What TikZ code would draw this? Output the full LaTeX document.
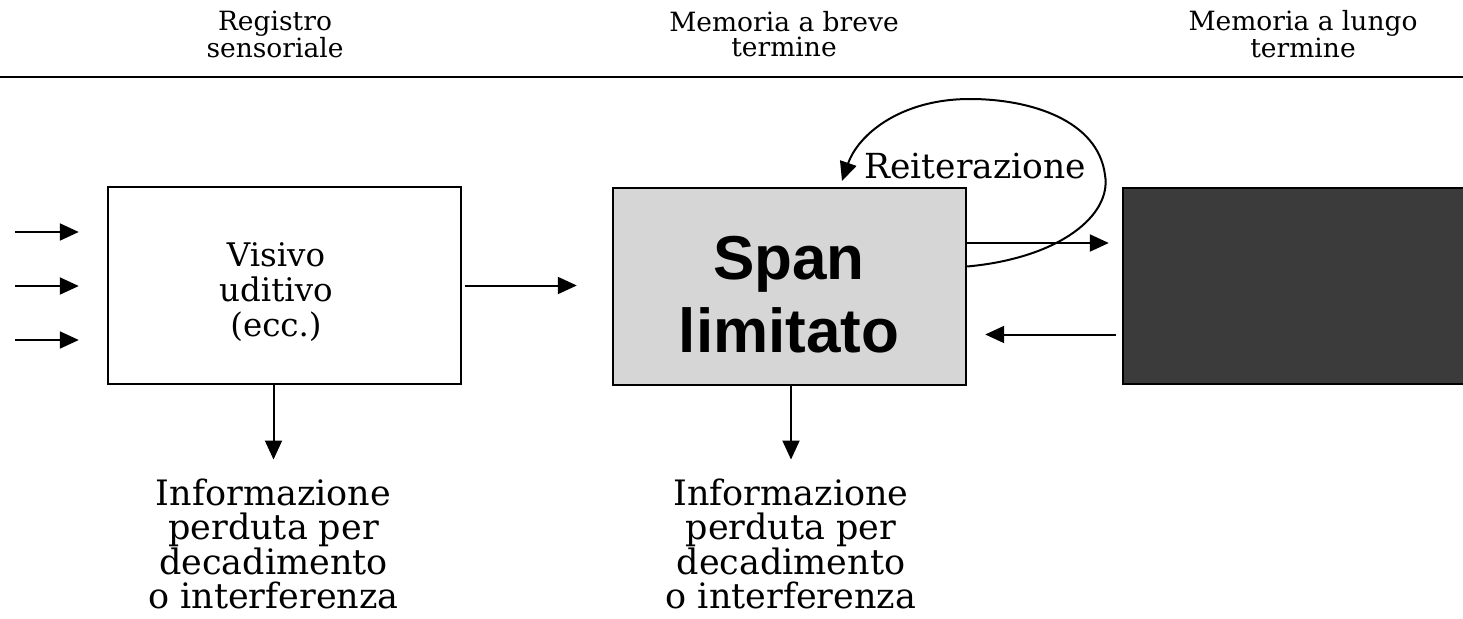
\documentclass[tikz,border=0pt]{standalone}
\usepackage{fontspec}
\setmainfont{DejaVu Serif}
\newfontfamily\spanfont{Liberation Sans}
\usetikzlibrary{arrows.meta}
\begin{document}
\begin{tikzpicture}[x=1pt,y=-1pt,
  arr/.style={line width=2pt,-{Triangle[length=19pt,width=17pt]}},
  box/.style={draw=black,line width=2.4pt,minimum height=197pt,inner sep=0pt},
  head/.style={font=\fontsize{26.5}{25}\selectfont,align=center,inner sep=0pt},
  loss/.style={font=\fontsize{35}{34.5}\selectfont,align=center,inner sep=0pt},
  boxtext/.style={font=\fontsize{32.5}{35}\selectfont,align=center,inner sep=0pt}]
\useasboundingbox (0,0) rectangle (1463,618);
% header
\node[head] (h1) at (275,34) {Registro\\sensoriale};
\node[head] (h2) at (784,34) {Memoria a breve\\termine};
\node[head] (h3) at (1303,34) {Memoria a lungo\\termine};
\draw[line width=2pt] (0,77) -- (1463,77);
% boxes
\node[box,fill=white,minimum width=353pt] (b1) at (284.5,285.5) {};
\node[boxtext] (vis) at (276,292) {Visivo\\uditivo\\(ecc.)};
\node[box,fill=black!16,minimum width=353pt] (b2) at (789.5,286.5) {};
\node[font=\spanfont\bfseries\fontsize{62}{73}\selectfont,align=center,inner sep=0pt] (span) at (789,294.5) {Span\\limitato};
\node[box,fill=black!77,minimum width=347pt,minimum height=196pt] (b3) at (1296.5,286) {};
% inputs
\coordinate (i1) at (15,232);
\coordinate (i2) at (15,286);
\coordinate (i3) at (15,340);
\draw[arr,shorten >=28pt] (i1) -- (i1 -| b1.west);
\draw[arr,shorten >=28pt] (i2) -- (i2 -| b1.west);
\draw[arr,shorten >=28pt] (i3) -- (i3 -| b1.west);
% between boxes
\draw[arr,shorten <=3pt,shorten >=35pt] (b1.east) -- (b1.east -| b2.west);
\draw[arr,shorten >=13pt] ([yshift=43.5pt]b2.east) -- ([yshift=43.5pt]b2.east -| b3.west);
\draw[arr,shorten <=6pt,shorten >=18pt] ([yshift=-48.5pt]b3.west) -- ([yshift=-48.5pt]b3.west -| b2.east);
% rehearsal loop
\node[font=\fontsize{34.5}{35}\selectfont,inner sep=0pt] (rei) at (975,166) {Reiterazione};
\coordinate (loopend) at (842,181);
\draw[arr] ([yshift=20pt]b2.east) .. controls (1060,258) and (1112,215) .. (1105,175)
  .. controls (1098,120) and (1030,99) .. (970,99)
  .. controls (900,99) and (858,135) .. (loopend);
% losses
\node[loss] (l1) at (273.5,544) {Informazione\\perduta per\\decadimento\\o interferenza};
\node[loss] (l2) at (791,544) {Informazione\\perduta per\\decadimento\\o interferenza};
\draw[arr,shorten >=19pt] (l1.north |- b1.south) -- (l1.north);
\draw[arr,shorten >=19pt] (l2.north |- b2.south) -- (l2.north);
\end{tikzpicture}
\end{document}
